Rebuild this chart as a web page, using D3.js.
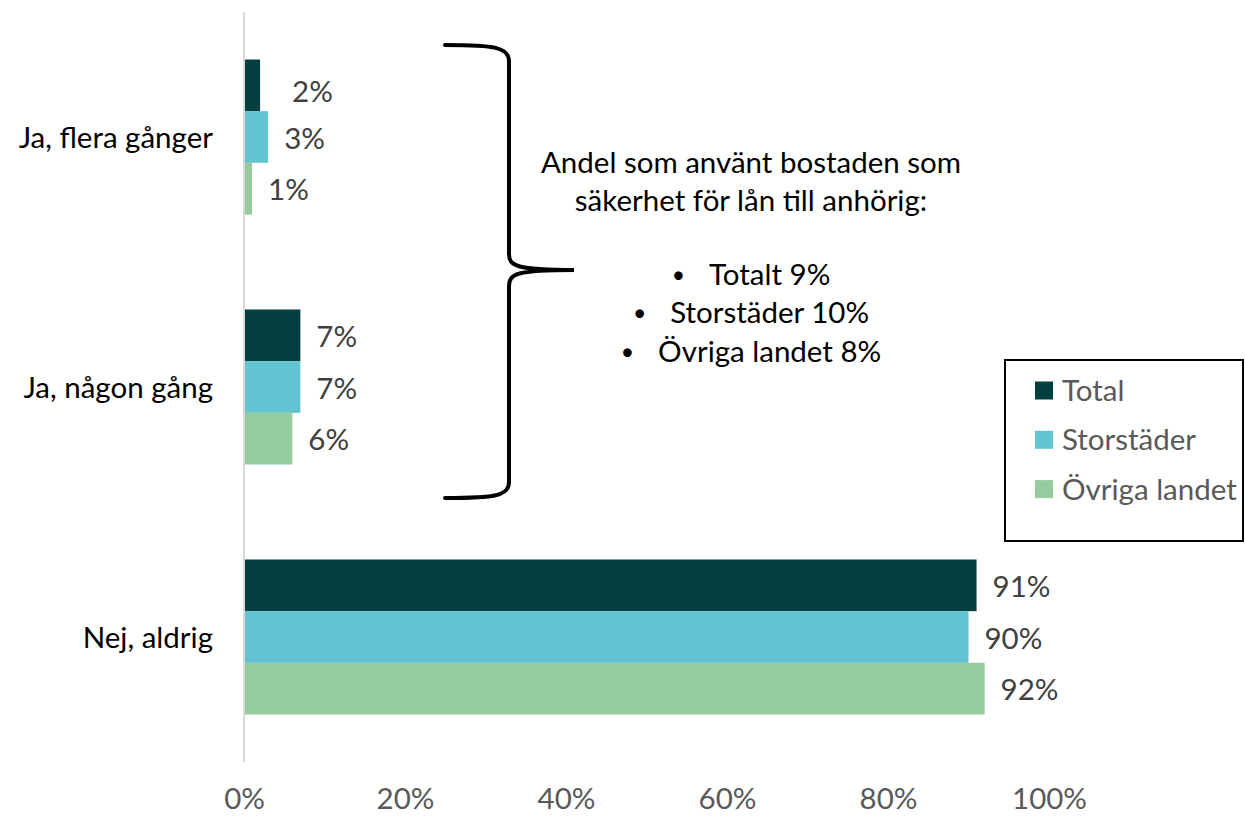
<!DOCTYPE html>
<html>
<head>
<meta charset="utf-8">
<script src="https://cdn.jsdelivr.net/npm/d3@7"></script>
<style>
  html, body { margin: 0; padding: 0; background: #fff; }
  svg { display: block; font-family: Lato, "Liberation Sans", sans-serif; }
</style>
</head>
<body>
<svg id="chart" width="1245" height="816"></svg>
<script>
// ---- data ----
const categories = ["Ja, flera gånger", "Ja, någon gång", "Nej, aldrig"];
const seriesNames = ["Total", "Storstäder", "Övriga landet"];
const totalValues = [0.02, 0.07, 0.91];
const storstaderValues = [0.03, 0.07, 0.90];
const ovrigaValues = [0.01, 0.06, 0.92];
const tickValues = [0, 0.2, 0.4, 0.6, 0.8, 1.0];
const noteLines = ["Andel som använt bostaden som", "säkerhet för lån till anhörig:"];
const noteBullets = ["Totalt 9%", "Storstäder 10%", "Övriga landet 8%"];

const colors = ["#033f3e", "#63c4d1", "#95cb9e"];
const seriesValues = [totalValues, storstaderValues, ovrigaValues];

const rows = [];
categories.forEach((c, i) => {
  seriesNames.forEach((s, j) => rows.push({cat: c, series: s, si: j, value: seriesValues[j][i]}));
});

const svg = d3.select("#chart");
const FS = 29.5;

const x = d3.scaleLinear().domain([0, 1]).range([244, 1049]);
const y = d3.scaleBand().domain(categories).range([12, 762]).paddingInner(0.38).paddingOuter(0.19);
const ys = d3.scaleBand().domain(seriesNames).range([0, y.bandwidth()]);

// bars
svg.append("g").selectAll("rect").data(rows).join("rect")
  .attr("x", x(0))
  .attr("y", d => y(d.cat) + ys(d.series))
  .attr("width", d => x(d.value) - x(0))
  .attr("height", ys.bandwidth())
  .attr("fill", d => colors[d.si]);

// value labels (the 2% label was moved manually in the original)
svg.append("g").selectAll("text").data(rows).join("text")
  .attr("x", d => x(d.value) + 16 + (d.cat === categories[0] && d.si === 0 ? 16 : 0))
  .attr("y", d => y(d.cat) + ys(d.series) + ys.bandwidth() / 2 + (d.cat === categories[0] && d.si === 0 ? 6 : 1))
  .attr("dy", "0.36em")
  .attr("font-size", FS)
  .attr("fill", "#404040")
  .text(d => d3.format(".0%")(d.value));

// vertical axis line
svg.append("line")
  .attr("x1", x(0)).attr("x2", x(0))
  .attr("y1", 12).attr("y2", 762)
  .attr("stroke", "#d9d9d9").attr("stroke-width", 2);

// category labels
svg.append("g").selectAll("text").data(categories).join("text")
  .attr("x", 213)
  .attr("y", d => y(d) + y.bandwidth() / 2)
  .attr("dy", "0.36em")
  .attr("text-anchor", "end")
  .attr("font-size", FS)
  .attr("fill", "#000")
  .text(d => d);

// x axis
const xAxis = svg.append("g")
  .attr("transform", "translate(0,788)")
  .call(d3.axisBottom(x).tickValues(tickValues).tickFormat(d3.format(".0%")).tickSize(0).tickPadding(0));
xAxis.select(".domain").remove();
xAxis.selectAll("text")
  .attr("font-family", "Lato, 'Liberation Sans', sans-serif")
  .attr("font-size", FS)
  .attr("fill", "#595959")
  .attr("dy", "0.72em");

// brace
svg.append("path")
  .attr("d", "M445,45 C495,45 509,47 509,62 L509,254 C509,266 516,270 574,270 C516,270 509,274 509,286 L509,482 C509,496 495,498 445,498")
  .attr("fill", "none")
  .attr("stroke", "#000")
  .attr("stroke-width", 4)
  .attr("stroke-linecap", "round");

// note text
const note = svg.append("g").attr("font-size", FS).attr("fill", "#000").attr("text-anchor", "middle");
note.selectAll("text.l").data(noteLines).join("text")
  .attr("class", "l")
  .attr("x", 751)
  .attr("y", (d, i) => 173 + i * 38.4)
  .text(d => d);
const bl = note.selectAll("text.b").data(noteBullets).join("text")
  .attr("class", "b")
  .attr("x", 751)
  .attr("y", (d, i) => 285 + i * 38.3);
bl.append("tspan").attr("font-size", 23).attr("dy", -2).text("•");
bl.append("tspan").attr("dx", 24).attr("dy", 2).text(d => d);

// legend
const lg = svg.append("g");
lg.append("rect")
  .attr("x", 1005).attr("y", 360).attr("width", 238).attr("height", 181)
  .attr("fill", "#fff").attr("stroke", "#000").attr("stroke-width", 2);
const li = lg.selectAll("g.item").data(seriesNames).join("g")
  .attr("class", "item")
  .attr("transform", (d, i) => `translate(1035,${390.5 + i * 49.3})`);
li.append("rect").attr("x", 0).attr("y", -9).attr("width", 18).attr("height", 18)
  .attr("fill", (d, i) => colors[i]);
li.append("text").attr("x", 27).attr("dy", "0.36em")
  .attr("font-size", FS).attr("fill", "#595959").text(d => d);
</script>
</body>
</html>
